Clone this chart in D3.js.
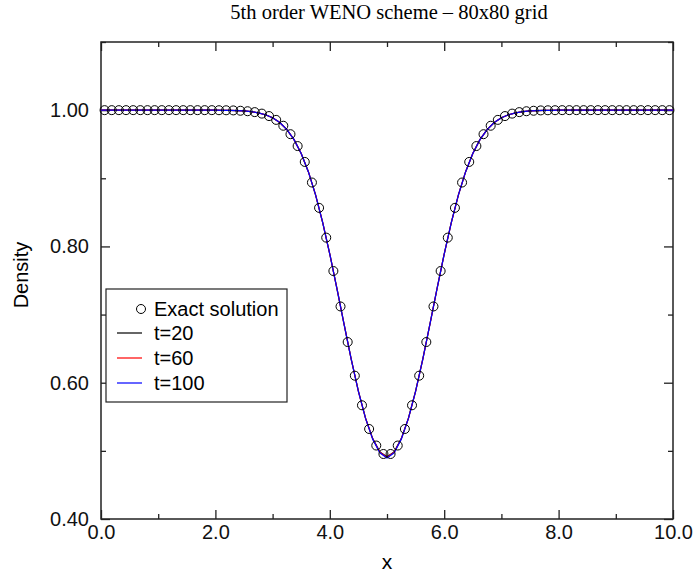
<!DOCTYPE html>
<html>
<head>
<meta charset="utf-8">
<script src="https://cdn.jsdelivr.net/npm/d3@7"></script>
<style>
  html, body { margin: 0; padding: 0; background: #fff; }
  svg { display: block; }
</style>
</head>
<body>
<svg id="chart" width="695" height="572"></svg>
<script>
// Exact solution, sampled at cell centres (x = 0.0625 + 0.125 i); left half mirrors the right half
const exactHalf = [
  0.4954, 0.5078, 0.5321, 0.5669, 0.6103, 0.6597, 0.7119, 0.7639,
  0.8129, 0.8566, 0.8938, 0.9240, 0.9473, 0.9647, 0.9771, 0.9857,
  0.9913, 0.9949, 0.9971, 0.9984, 0.9991, 0.9996, 0.9998, 0.9999,
  1.0000, 1.0000, 1.0000, 1.0000, 1.0000, 1.0000, 1.0000, 1.0000,
  1.0000, 1.0000, 1.0000, 1.0000, 1.0000, 1.0000, 1.0000, 1.0000
];
const exactX = d3.range(80).map(i => 0.0625 + 0.125 * i);
const exactY = exactHalf.slice().reverse().concat(exactHalf);

// WENO5 density on the 80x80 mesh, cut through the vortex centre (x = 0 .. 10, step 0.125)
// values listed from the centre outwards; profile is symmetric
const t20Half = [
  0.4915, 0.4985, 0.5180, 0.5480, 0.5875, 0.6343, 0.6855, 0.7380,
  0.7888, 0.8354, 0.8760, 0.9097, 0.9364, 0.9567, 0.9715, 0.9818,
  0.9888, 0.9933, 0.9961, 0.9978, 0.9988, 0.9994, 0.9997, 0.9998,
  0.9999, 1.0000, 1.0000, 1.0000, 1.0000, 1.0000, 1.0000, 1.0000,
  1.0000, 1.0000, 1.0000, 1.0000, 1.0000, 1.0000, 1.0000, 1.0000, 1.0000
];
const t60Half = [
  0.4905, 0.4978, 0.5176, 0.5478, 0.5874, 0.6343, 0.6855, 0.7380,
  0.7888, 0.8354, 0.8760, 0.9097, 0.9364, 0.9567, 0.9715, 0.9818,
  0.9888, 0.9933, 0.9961, 0.9978, 0.9988, 0.9994, 0.9997, 0.9998,
  0.9999, 1.0000, 1.0000, 1.0000, 1.0000, 1.0000, 1.0000, 1.0000,
  1.0000, 1.0000, 1.0000, 1.0000, 1.0000, 1.0000, 1.0000, 1.0000, 1.0000
];
const t100Half = [
  0.4895, 0.4972, 0.5172, 0.5476, 0.5873, 0.6343, 0.6855, 0.7380,
  0.7888, 0.8354, 0.8760, 0.9097, 0.9364, 0.9567, 0.9715, 0.9818,
  0.9888, 0.9933, 0.9961, 0.9978, 0.9988, 0.9994, 0.9997, 0.9998,
  0.9999, 1.0000, 1.0000, 1.0000, 1.0000, 1.0000, 1.0000, 1.0000,
  1.0000, 1.0000, 1.0000, 1.0000, 1.0000, 1.0000, 1.0000, 1.0000, 1.0000
];
const gridX = d3.range(81).map(j => 0.125 * j);
const mirror = half => half.slice(1).reverse().concat(half);

const seriesNames = ["t=20", "t=60", "t=100"];
const seriesColors = ["#000000", "#ff0000", "#0000ff"];
const seriesValues = [mirror(t20Half), mirror(t60Half), mirror(t100Half)];

const xMajorTicks = [0, 2, 4, 6, 8, 10];
const xMinorTicks = [1, 3, 5, 7, 9];
const yMajorTicks = [0.4, 0.6, 0.8, 1.0];
const yMinorTicks = [0.5, 0.7, 0.9, 1.1];

const titleText = "5th order WENO scheme \u2013 80x80 grid";
const xLabel = "x";
const yLabel = "Density";
const exactLabel = "Exact solution";

const svg = d3.select("#chart");
const plot = { left: 101, right: 673, top: 42, bottom: 519 };

const x = d3.scaleLinear().domain([0, 10]).range([plot.left, plot.right]);
const y = d3.scaleLinear().domain([0.4, 1.1]).range([plot.bottom, plot.top]);

const sans = "'Liberation Sans', Arial, Helvetica, sans-serif";
const labelSize = 20;

// inward ticks on all four sides
function tickAxis(axisFn, scale, values, size, fmt, pad) {
  const a = axisFn(scale).tickValues(values).tickSizeInner(-size).tickSizeOuter(0);
  if (fmt) a.tickFormat(fmt).tickPadding(pad); else a.tickFormat("");
  return a;
}
function drawAxis(g, axis) {
  g.call(axis);
  g.select(".domain").remove();
  g.selectAll(".tick line").attr("stroke", "#222").attr("stroke-width", 1.3);
}

const fx = d3.format(".1f"), fy = d3.format(".2f");

const gb = svg.append("g").attr("transform", `translate(0,${plot.bottom})`);
drawAxis(gb, tickAxis(d3.axisBottom, x, xMajorTicks, 9, fx, 6));
const gbm = svg.append("g").attr("transform", `translate(0,${plot.bottom})`);
drawAxis(gbm, tickAxis(d3.axisBottom, x, xMinorTicks, 5, null));
const gt = svg.append("g").attr("transform", `translate(0,${plot.top})`);
drawAxis(gt, tickAxis(d3.axisTop, x, xMajorTicks, 9, null));
const gtm = svg.append("g").attr("transform", `translate(0,${plot.top})`);
drawAxis(gtm, tickAxis(d3.axisTop, x, xMinorTicks, 5, null));

const gl = svg.append("g").attr("transform", `translate(${plot.left},0)`);
drawAxis(gl, tickAxis(d3.axisLeft, y, yMajorTicks, 9, fy, 12));
const glm = svg.append("g").attr("transform", `translate(${plot.left},0)`);
drawAxis(glm, tickAxis(d3.axisLeft, y, yMinorTicks, 5, null));
const gr = svg.append("g").attr("transform", `translate(${plot.right},0)`);
drawAxis(gr, tickAxis(d3.axisRight, y, yMajorTicks, 9, null));
const grm = svg.append("g").attr("transform", `translate(${plot.right},0)`);
drawAxis(grm, tickAxis(d3.axisRight, y, yMinorTicks, 5, null));

svg.selectAll(".tick text")
  .attr("font-family", sans).attr("font-size", labelSize).attr("fill", "#111");

// frame
svg.append("rect")
  .attr("x", plot.left).attr("y", plot.top)
  .attr("width", plot.right - plot.left).attr("height", plot.bottom - plot.top)
  .attr("fill", "none").attr("stroke", "#222").attr("stroke-width", 1.5);

// numerical solutions
const line = d3.line().x((d, i) => x(gridX[i])).y(d => y(d));
seriesValues.forEach((vals, k) => {
  svg.append("path")
    .datum(vals)
    .attr("d", line)
    .attr("fill", "none")
    .attr("stroke", seriesColors[k])
    .attr("stroke-width", 1.2);
});

// exact solution markers
svg.append("g").selectAll("circle")
  .data(exactY)
  .join("circle")
  .attr("cx", (d, i) => x(exactX[i]))
  .attr("cy", d => y(d))
  .attr("r", 4.5)
  .attr("fill", "none")
  .attr("stroke", "#000")
  .attr("stroke-width", 1);

// title and axis labels
svg.append("text")
  .attr("x", 389).attr("y", 19)
  .attr("text-anchor", "middle")
  .attr("font-family", "'Liberation Serif', 'Times New Roman', serif")
  .attr("font-size", 20.5)
  .text(titleText);

svg.append("text")
  .attr("x", (plot.left + plot.right) / 2).attr("y", 569)
  .attr("text-anchor", "middle")
  .attr("font-family", sans).attr("font-size", 21)
  .text(xLabel);

svg.append("text")
  .attr("transform", `translate(28,275) rotate(-90)`)
  .attr("text-anchor", "middle")
  .attr("font-family", sans).attr("font-size", 20)
  .text(yLabel);

// legend
const leg = svg.append("g");
leg.append("rect")
  .attr("x", 106).attr("y", 289).attr("width", 181).attr("height", 113)
  .attr("fill", "#fff").attr("stroke", "#222").attr("stroke-width", 1.2);
leg.append("circle")
  .attr("cx", 141).attr("cy", 309).attr("r", 4.5)
  .attr("fill", "none").attr("stroke", "#000").attr("stroke-width", 1);
leg.append("text")
  .attr("x", 154).attr("y", 316)
  .attr("font-family", sans).attr("font-size", labelSize)
  .text(exactLabel);
seriesNames.forEach((name, k) => {
  const yy = 333 + 25 * k;
  leg.append("line")
    .attr("x1", 117).attr("x2", 142).attr("y1", yy).attr("y2", yy)
    .attr("stroke", seriesColors[k]).attr("stroke-width", 1.2);
  leg.append("text")
    .attr("x", 154).attr("y", yy + 7)
    .attr("font-family", sans).attr("font-size", labelSize)
    .text(name);
});
</script>
</body>
</html>
